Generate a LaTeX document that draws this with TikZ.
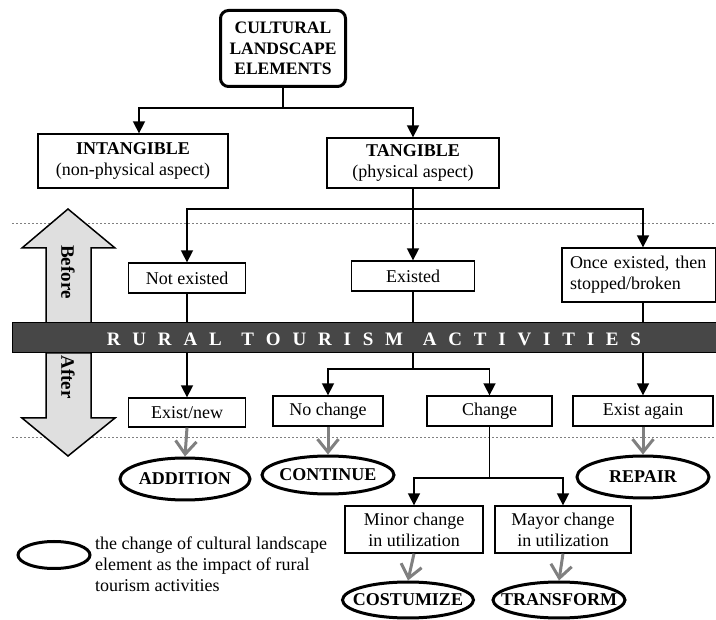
\documentclass[tikz,border=0pt]{standalone}
\usepackage{fontspec}
\setmainfont{Liberation Serif}
\usetikzlibrary{arrows.meta,shapes.geometric}
\newcommand\ls{\hspace{11.8pt}}
\newcommand\ws{\hspace{19.8pt}}
\tikzset{
  base/.style={font=\fontsize{18}{21}\selectfont},
  box/.style={base, draw, line width=1.3pt, fill=white, inner sep=0pt, align=center},
  oval/.style={ellipse, draw, line width=3pt, inner sep=0pt},
  olab/.style={font=\fontsize{18}{21}\selectfont\bfseries},
  arr/.style={-{Triangle[length=12pt,width=12pt]}, line width=1.6pt},
  garr/.style={-{Straight Barb[length=13pt,width=21pt]}, line width=3pt, draw=gray},
  dotline/.style={gray, line width=1pt, dash pattern=on 2pt off 2pt},
  bigarr/.style={draw=black, fill=gray!25, line width=1.5pt, line join=miter},
  sidelab/.style={font=\fontsize{19}{21}\selectfont\bfseries, rotate=-90}
}
\begin{document}
\begin{tikzpicture}[x=1pt,y=-1pt]
\useasboundingbox (0,0) rectangle (716,620);
% dotted lines
\draw[dotline] (12,224) -- (716,224);
\draw[dotline] (12,438) -- (716,438);
% before / after arrows
\draw[bigarr] (46,323) -- (46,248) -- (22,248) -- (68,209) -- (115,248) -- (91,248) -- (91,323) -- cycle;
\draw[bigarr] (46,353) -- (46,418) -- (22,418) -- (68,456) -- (115,418) -- (91,418) -- (91,353) -- cycle;
\node[sidelab] (before) at (68,272) {Before};
\node[sidelab] (after) at (68,377) {After};
% top
\node[box, line width=3pt, rounded corners=8pt, minimum width=125pt, minimum height=76pt, font=\fontsize{17.5}{20.5}\selectfont\bfseries] (top) at (283,48.5) {CULTURAL\\LANDSCAPE\\ELEMENTS};
\node[box, minimum width=190pt, minimum height=54pt] (intang) at (133,161) {\textbf{INTANGIBLE}\\(non-physical aspect)};
\node[box, minimum width=172pt, minimum height=50pt] (tang) at (413,163) {\textbf{TANGIBLE}\\(physical aspect)};
\coordinate (j0) at (283,108);
\draw[line width=1.6pt] (top.south) -- (j0);
\draw[arr] (j0) -| ([xshift=6pt]intang.north);
\draw[arr] (j0) -| (tang.north);
% level 2
\node[box, minimum width=117pt, minimum height=30pt] (notex) at (187,278) {Not existed};
\node[box, minimum width=123pt, minimum height=30pt] (exist) at (413,276) {Existed};
\node[box, minimum width=154pt, minimum height=54pt, align=left, text width=138pt] (once) at (639,275) {Once existed, then\\stopped/broken};
\coordinate (j1) at (413,209);
\draw[line width=1.6pt] (tang.south) -- (j1);
\draw[arr] (j1) -| (notex.north);
\draw[arr] (j1) -- (exist.north);
\draw[arr] (j1) -| ([xshift=4pt]once.north);
% level 3
\node[box, minimum width=117pt, minimum height=29pt] (exnew) at (187,412.5) {Exist/new};
\node[box, minimum width=110pt, minimum height=30pt] (nochange) at (328,411) {No change};
\node[box, minimum width=125pt, minimum height=30pt] (change) at (489.5,411) {Change};
\node[box, minimum width=140pt, minimum height=30pt] (again) at (643,411) {Exist again};
\coordinate (j2) at (413,369);
\draw[arr] (notex.south) -- (exnew.north);
\draw[line width=1.6pt] (exist.south) -- (j2);
\draw[arr] (j2) -| (nochange.north);
\draw[arr] (j2) -| (change.north);
\draw[arr] (once.south -| again.north) -- (again.north);
% band
\node[draw=black, line width=1pt, fill=black!72, minimum width=704pt, minimum height=30pt, inner sep=0pt] (band) at (364,338) {};
\node[font=\fontsize{19}{20}\selectfont\bfseries, text=white] (bandtxt) at (374,339)
 {R\ls U\ls R\ls A\ls L\ws T\ls O\ls U\ls R\ls I\ls S\ls M\ws A\ls C\ls T\ls I\ls V\ls I\ls T\ls I\ls E\ls S};
% level 4
\node[box, minimum width=138pt, minimum height=47pt] (minor) at (414,529.5) {Minor change\\in utilization};
\node[box, minimum width=136pt, minimum height=47pt] (mayor) at (563,529.5) {Mayor change\\in utilization};
\coordinate (j3) at (489.5,478);
\draw[line width=1.6pt] (change.south) -- (j3);
\draw[arr] (j3) -| (minor.north);
\draw[arr] (j3) -| (mayor.north);
% ovals
\node[oval, minimum width=130pt, minimum height=42pt] (add) at (185,479) {};
\node[olab] at (add) {ADDITION};
\node[oval, minimum width=132pt, minimum height=38pt] (cont) at (328,475) {};
\node[olab] at (cont) {CONTINUE};
\node[oval, minimum width=132pt, minimum height=42pt] (rep) at (643,477) {};
\node[olab] at (rep) {REPAIR};
\node[oval, minimum width=131pt, minimum height=36pt] (cost) at (408,600) {};
\node[olab] at (cost) {COSTUMIZE};
\node[oval, minimum width=132pt, minimum height=36pt] (trans) at (559,600) {};
\node[olab] at (trans) {TRANSFORM};
\draw[garr] (exnew.south) -- (add.north);
\draw[garr] (nochange.south) -- (cont.north);
\draw[garr] (again.south) -- (rep.north);
\draw[garr] (minor.south) -- (cost.north);
\draw[garr] (mayor.south) -- (trans.north);
% legend
\node[oval, minimum width=72pt, minimum height=27pt] (leg) at (54,555) {};
\node[base, anchor=north west, align=left, inner sep=0pt] (legtxt) at (95,537) {the change of cultural landscape\\element as the impact of rural\\tourism activities};
\end{tikzpicture}
\end{document}
